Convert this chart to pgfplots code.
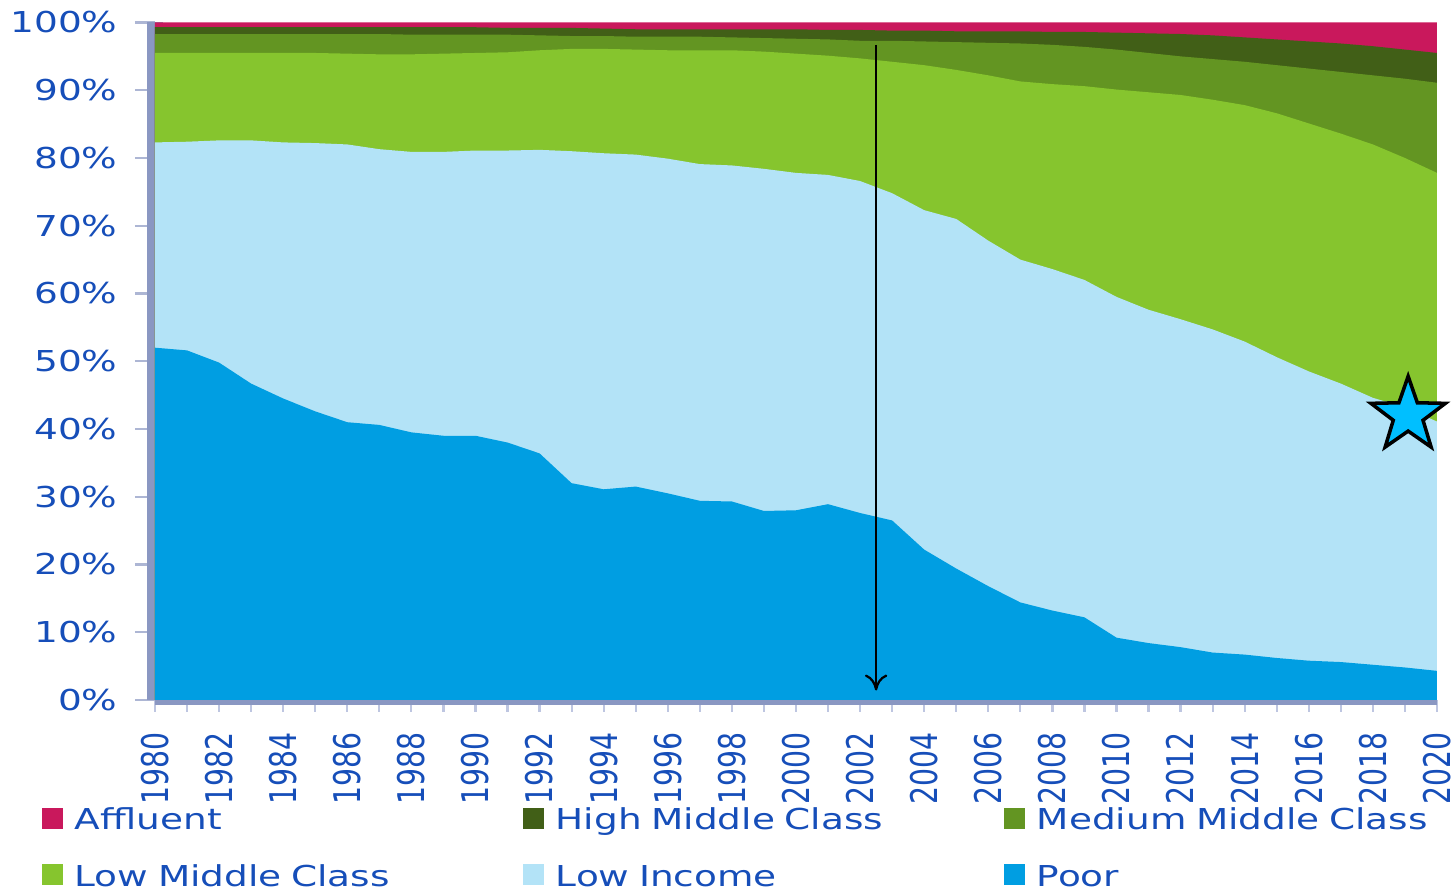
\documentclass[border=0pt]{standalone}
\usepackage{pgfplots}
\pgfplotsset{compat=1.18}
\usepackage{pgfplotstable}
\usepackage{fontspec}
\setmainfont{DejaVu Sans}
\newfontfamily\widefont[FakeStretch=1.3]{DejaVu Sans}
\newfontfamily\narrowfont[FakeStretch=0.77]{DejaVu Sans}
\usetikzlibrary{shapes.geometric,arrows.meta}

\definecolor{cpoor}{RGB}{0,158,226}
\definecolor{clowinc}{RGB}{179,227,247}
\definecolor{clowmid}{RGB}{134,197,46}
\definecolor{cmedmid}{RGB}{99,149,34}
\definecolor{chighmid}{RGB}{65,95,23}
\definecolor{caffl}{RGB}{201,24,92}
\definecolor{textblue}{RGB}{22,78,185}
\definecolor{axisblue}{RGB}{138,151,194}
\definecolor{tickgrey}{RGB}{190,198,225}
\definecolor{starblue}{RGB}{0,191,255}

% cumulative shares (%) of households, top edge of each layer
\pgfplotstableread{
year poor lowinc lowmid medmid highmid top
1980 52.0 82.3 95.5 98.3 99.3 100
1981 51.6 82.4 95.5 98.3 99.3 100
1982 49.8 82.6 95.5 98.3 99.3 100
1983 46.7 82.6 95.5 98.3 99.3 100
1984 44.5 82.3 95.5 98.3 99.3 100
1985 42.6 82.2 95.5 98.3 99.3 100
1986 41.0 82.0 95.4 98.3 99.3 100
1987 40.6 81.3 95.3 98.3 99.3 100
1988 39.5 80.9 95.3 98.2 99.3 100
1989 39.0 80.9 95.4 98.2 99.3 100
1990 39.0 81.1 95.5 98.2 99.3 100
1991 38.0 81.1 95.6 98.2 99.2 100
1992 36.4 81.2 95.9 98.1 99.2 100
1993 32.0 81.0 96.1 98.0 99.2 100
1994 31.1 80.7 96.1 98.0 99.1 100
1995 31.5 80.5 96.0 97.9 99.0 100
1996 30.5 79.9 95.9 97.9 99.0 100
1997 29.4 79.1 95.9 97.9 99.0 100
1998 29.3 78.9 95.9 97.8 99.0 100
1999 27.9 78.4 95.7 97.7 99.0 100
2000 28.0 77.8 95.4 97.6 99.0 100
2001 28.9 77.5 95.1 97.5 98.9 100
2002 27.6 76.6 94.7 97.3 98.9 100
2003 26.5 74.8 94.2 97.3 98.8 100
2004 22.2 72.3 93.7 97.2 98.8 100
2005 19.4 71.0 93.0 97.1 98.7 100
2006 16.8 67.8 92.2 97.0 98.7 100
2007 14.4 65.0 91.3 96.9 98.7 100
2008 13.2 63.6 90.9 96.7 98.6 100
2009 12.2 62.0 90.6 96.4 98.6 100
2010 9.2 59.5 90.1 96.0 98.5 100
2011 8.4 57.6 89.7 95.5 98.4 100
2012 7.8 56.2 89.3 95.0 98.3 100
2013 7.0 54.7 88.6 94.6 98.1 100
2014 6.7 52.9 87.8 94.2 97.8 100
2015 6.2 50.6 86.6 93.7 97.5 100
2016 5.8 48.5 85.1 93.2 97.2 100
2017 5.6 46.7 83.6 92.7 96.9 100
2018 5.2 44.6 82.0 92.2 96.5 100
2019 4.8 43.2 80.0 91.7 96.0 100
2020 4.3 41.1 77.8 91.1 95.5 100
}\datatable

\begin{document}
\begin{tikzpicture}
\useasboundingbox (-1.703,-2.077) rectangle (14.297,7.692);
\begin{axis}[
  at={(0,0)}, anchor=south west,
  scale only axis, width=14.088cm, height=7.445cm,
  xmin=1980, xmax=2020, ymin=0, ymax=100,
  clip mode=individual,
  axis x line*=bottom, axis y line*=left,
  x axis line style={line width=3pt, color=axisblue},
  y axis line style={line width=5pt, color=axisblue},
  tick align=outside,
  major tick length=0.13cm, minor tick length=0.13cm,
  xtick={1980,1982,...,2020},
  minor xtick={1981,1983,...,2019},
  ytick={0,10,...,100},
  xtick style={color=tickgrey, line width=0.7pt},
  minor tick style={color=tickgrey, line width=0.7pt},
  ytick style={color=axisblue!70, line width=0.7pt, /pgfplots/major tick length=0.22cm},
  /pgf/number format/assume math mode=true,
  /pgf/number format/1000 sep={},
  yticklabel={\pgfmathprintnumber{\tick}\%},
  yticklabel shift=0.275cm,
  xticklabel shift=0.22cm,
  yticklabel style={font=\widefont\fontsize{9}{10}\selectfont, text=textblue, anchor=east, inner sep=0pt},
  xticklabel style={font=\narrowfont\fontsize{11.5}{12}\selectfont, text=textblue, rotate=90, anchor=east, inner sep=0pt},
  legend columns=3,
  legend cell align=left,
  legend image code/.code={\path[#1, draw=none] (0cm,-3.3pt) rectangle (0.23cm,3.3pt);},
  legend style={
    at={(rel axis cs:-0.0881,-0.1588)}, anchor=north west,
    draw=none, fill=none, inner sep=0pt, outer sep=0pt,
    font=\widefont\fontsize{9}{10}\selectfont, text=textblue,
    nodes={inner sep=0pt, text width=4.6cm, text height=7pt, text depth=0pt},
    /tikz/every odd column/.append style={column sep=0.13cm},
    /tikz/every even column/.append style={column sep=0.326cm},
    /tikz/row sep=0.37cm,
  },
]
\addplot[fill=caffl, draw=none] table[x=year, y=top] {\datatable} \closedcycle;
\addlegendentry{Affluent}
\addplot[fill=chighmid, draw=none] table[x=year, y=highmid] {\datatable} \closedcycle;
\addlegendentry{High Middle Class}
\addplot[fill=cmedmid, draw=none] table[x=year, y=medmid] {\datatable} \closedcycle;
\addlegendentry{Medium Middle Class}
\addplot[fill=clowmid, draw=none] table[x=year, y=lowmid] {\datatable} \closedcycle;
\addlegendentry{Low Middle Class}
\addplot[fill=clowinc, draw=none] table[x=year, y=lowinc] {\datatable} \closedcycle;
\addlegendentry{Low Income}
\addplot[fill=cpoor, draw=none] table[x=year, y=poor] {\datatable} \closedcycle;
\addlegendentry{Poor}
\draw[line width=0.7pt, -{To[length=5pt,width=7pt]}] (axis cs:2002.5,96.7) -- (axis cs:2002.5,1.4);
\node[star, star points=5, star point ratio=2.5, minimum size=0.86cm, inner sep=0pt,
      fill=starblue, draw=black, line width=1.1pt] at (axis cs:2019.1,42.0) {};
\end{axis}
\end{tikzpicture}
\end{document}
